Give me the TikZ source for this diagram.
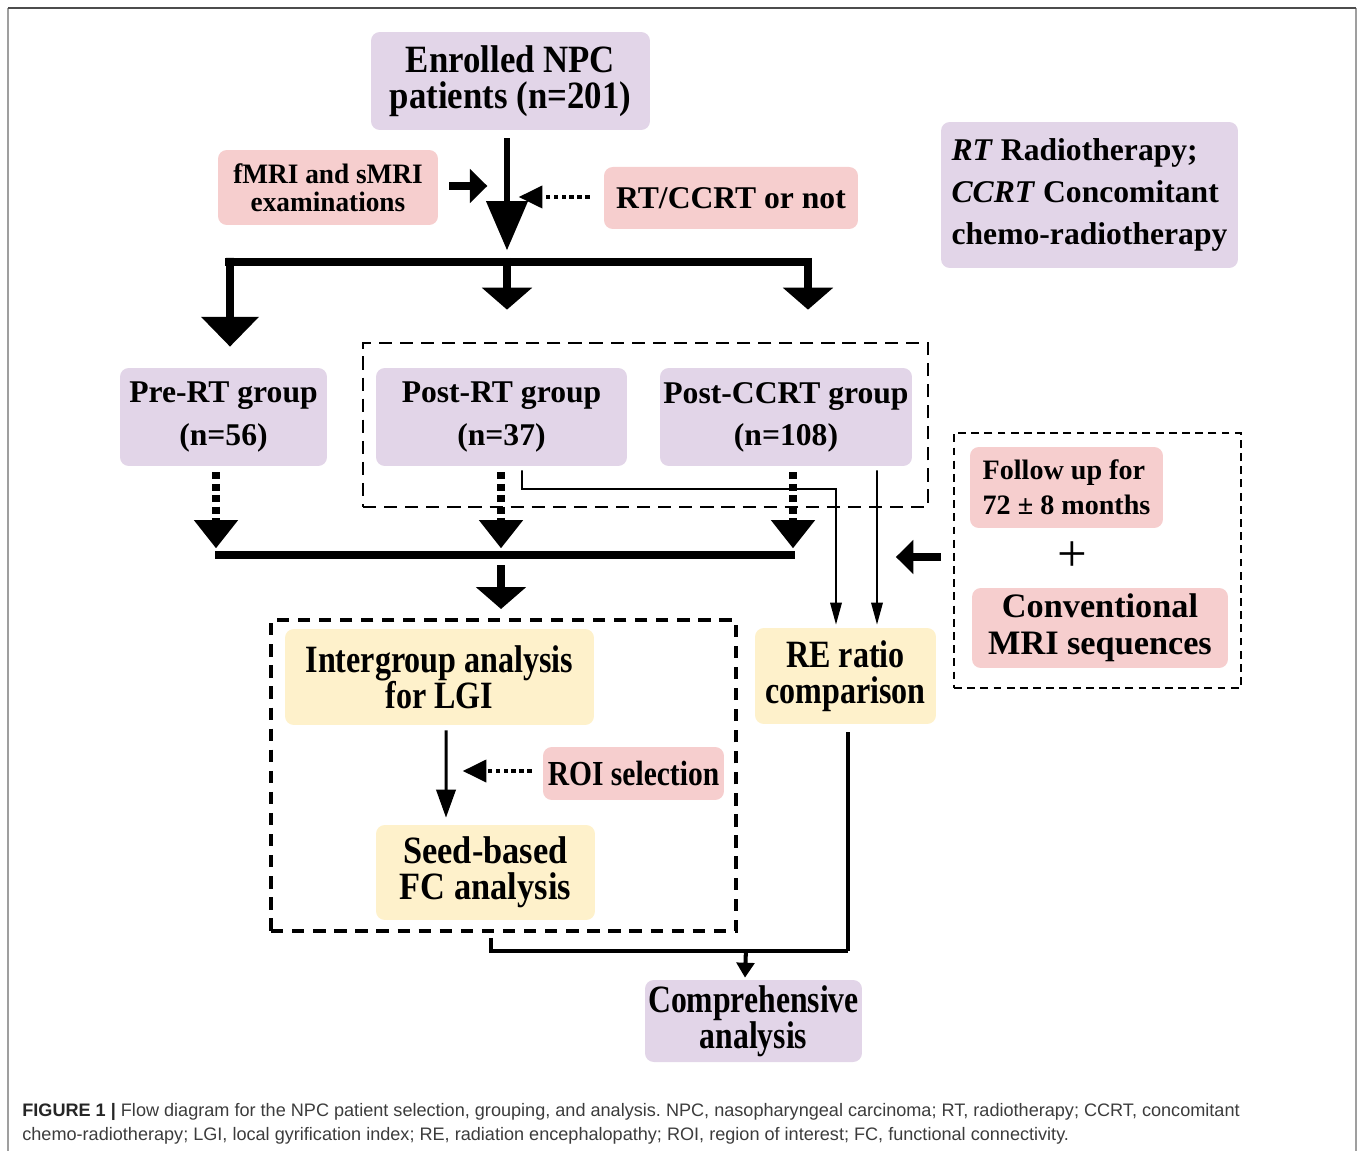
\documentclass[tikz,border=0pt]{standalone}
\usepackage{fontspec}
\setmainfont{Liberation Serif}
\newfontfamily\capfont{Liberation Sans}
\usepackage{graphicx}
\usetikzlibrary{arrows.meta,calc}
\definecolor{lav}{RGB}{226,213,232}
\definecolor{pnk}{RGB}{246,206,206}
\definecolor{ylw}{RGB}{254,241,203}
\definecolor{capgray}{RGB}{60,60,60}
\newcommand{\hs}[2]{\scalebox{#1}[1]{#2}}
\frenchspacing
\begin{document}
\begin{tikzpicture}[x=0.02cm,y=-0.02cm,
  box/.style={rounded corners=5pt, inner sep=0pt, align=center},
  lavbox/.style={box, fill=lav},
  pnkbox/.style={box, fill=pnk},
  ylwbox/.style={box, fill=ylw},
  grpdash/.style={draw, line width=1.1pt, dash pattern=on 7.5pt off 4.5pt, inner sep=0pt},
  fudash/.style={draw, line width=1.3pt, dash pattern=on 4.5pt off 3pt, inner sep=0pt},
  anadash/.style={draw, line width=2.3pt, dash pattern=on 7pt off 5pt, inner sep=0pt},
  mainarrow/.style={line width=3.4pt, -{Triangle[width=23pt,length=28pt]}},
  dropL/.style={line width=4.5pt, -{Triangle[width=32pt,length=17pt]}},
  dropM/.style={line width=4.5pt, -{Triangle[width=28pt,length=12.5pt]}},
  sidearrow/.style={line width=4.5pt, -{Triangle[width=19pt,length=10pt]}},
  dotarrow/.style={line width=2.3pt, dash pattern=on 2.5pt off 2pt, -{Triangle[width=12.5pt,length=13.5pt]}},
  dotdrop/.style={line width=4.5pt, dash pattern=on 4pt off 2.5pt, -{Triangle[width=24pt,length=16pt]}},
  thinarrow/.style={line width=1.1pt, -{Triangle[width=6.5pt,length=12.5pt]}},
  midarrow/.style={line width=1.7pt, -{Triangle[width=11pt,length=16pt]}},
  botline/.style={line width=2.3pt},
  botarrow/.style={line width=2.3pt, -{Triangle[width=10pt,length=8.5pt]}},
  barline/.style={line width=5pt},
  capstyle/.style={anchor=base west, inner sep=0pt, text=capgray, font=\capfont\fontsize{10.3}{12}\selectfont}
]
\useasboundingbox (0,0) rectangle (1358,1151);
% frame
\draw[gray!75, line width=1.2pt] (8,1151) -- (8,8);
\draw[gray!75, line width=1.2pt] (1356,8) -- (1356,1151);
\draw[black!70, line width=1.2pt] (8,8) -- (1356,8);

% dashed group boxes
\node[grpdash, minimum width=11.3cm, minimum height=3.28cm] (grpbox) at (645.5,425) {};
\node[fudash, minimum width=5.74cm, minimum height=5.1cm] (fubox) at (1097.5,560.5) {};
\node[anadash, minimum width=9.3cm, minimum height=6.22cm] (anabox) at (503.5,775.5) {};

% nodes
\node[lavbox, minimum width=5.58cm, minimum height=1.96cm, font=\bfseries\fontsize{22}{20.5}\selectfont] (enrolled) at (510.5,81) {\hs{0.9}{Enrolled NPC}\\\hs{0.9}{patients (n=201)}};
\node[pnkbox, minimum width=4.4cm, minimum height=1.5cm, font=\bfseries\fontsize{16}{16}\selectfont] (fmri) at (328,187.5) {\hs{0.97}{fMRI and sMRI}\\\hs{0.97}{examinations}};
\node[pnkbox, minimum width=5.08cm, minimum height=1.24cm, font=\bfseries\fontsize{18}{18}\selectfont] (rtccrt) at (731,198) {RT/CCRT or not};
\node[lavbox, align=left, minimum width=5.94cm, minimum height=2.92cm, font=\bfseries\fontsize{18}{24}\selectfont] (legend) at (1089.5,195) {\textit{RT} Radiotherapy;\\\textit{CCRT} Concomitant\\chemo-radiotherapy};
\node[lavbox, minimum width=4.14cm, minimum height=1.96cm, font=\bfseries\fontsize{18}{24}\selectfont] (pre) at (223.5,417) {Pre-RT group\\(n=56)};
\node[lavbox, minimum width=5.02cm, minimum height=1.96cm, font=\bfseries\fontsize{18}{24}\selectfont] (postrt) at (501.5,417) {Post-RT group\\(n=37)};
\node[lavbox, minimum width=5.04cm, minimum height=1.96cm, font=\bfseries\fontsize{18}{24}\selectfont] (postccrt) at (786,417) {Post-CCRT group\\(n=108)};
\node[pnkbox, align=left, minimum width=3.86cm, minimum height=1.62cm, font=\bfseries\fontsize{16}{20}\selectfont] (follow) at (1066.5,487.5) {Follow up for\\72 ± 8 months};
\node[inner sep=0pt, font=\fontsize{30}{30}\selectfont] (plus) at (1072,557) {+};
\node[pnkbox, minimum width=5.12cm, minimum height=1.6cm, font=\bfseries\fontsize{19.5}{21}\selectfont] (conv) at (1100,628) {Conventional\\MRI sequences};
\node[ylwbox, minimum width=6.18cm, minimum height=1.92cm, font=\bfseries\fontsize{22}{20.5}\selectfont] (inter) at (439.5,677) {\hs{0.83}{Intergroup analysis}\\\hs{0.83}{for LGI}};
\node[pnkbox, minimum width=3.62cm, minimum height=1.06cm, font=\bfseries\fontsize{20}{20}\selectfont] (roi) at (633.5,773.5) {\hs{0.84}{ROI selection}};
\node[ylwbox, minimum width=4.38cm, minimum height=1.9cm, font=\bfseries\fontsize{22}{20.5}\selectfont] (seed) at (485.5,872.5) {\hs{0.89}{Seed-based}\\\hs{0.89}{FC analysis}};
\node[ylwbox, minimum width=3.62cm, minimum height=1.92cm, font=\bfseries\fontsize{22}{20.5}\selectfont] (re) at (845.5,676) {\hs{0.83}{RE ratio}\\\hs{0.83}{comparison}};
\node[lavbox, minimum width=4.34cm, minimum height=1.64cm, font=\bfseries\fontsize{22}{20.5}\selectfont] (comp) at (753.5,1021) {\hs{0.82}{Comprehensive}\\\hs{0.82}{analysis}};

% caption
\node[capstyle] (cap1) at (22,1116) {{\color{black!85}\bfseries FIGURE 1 |} Flow diagram for the NPC patient selection, grouping, and analysis. NPC, nasopharyngeal carcinoma; RT, radiotherapy; CCRT, concomitant};
\node[capstyle] (cap2) at (22,1140) {chemo-radiotherapy; LGI, local gyrification index; RE, radiation encephalopathy; ROI, region of interest; FC, functional connectivity.};

% coordinates
\coordinate (barL) at (225,262);
\coordinate (barR) at (812,262);
\coordinate (bar2L) at (215,555);
\coordinate (bar2R) at (795,555);
\coordinate (k1) at (522,489);
\coordinate (k2) at (836,489);
\coordinate (j1) at (491,951);
\coordinate (j2) at (848,951);

% connectors top
\draw[mainarrow] ($(enrolled.south)+(-3.5,8)$) -- ($(enrolled.south)+(-3.5,120)$);
\draw[sidearrow] ($(fmri.east)+(11,-1.5)$) -- ($(fmri.east)+(49,-1.5)$);
\draw[dotarrow] ($(rtccrt.west)+(-14,-1)$) -- ($(rtccrt.west)+(-85,-1)$);
\draw[barline] (barL) -- (barR);
\draw[dropL] ($(barL)+(5,-4)$) -- ($(pre.north)+(6.5,-21)$);
\draw[dropM] ($(barL -| postrt.north)+(5.5,-4)$) -- ($(postrt.north)+(5.5,-58)$);
\draw[dropM] ($(barR)+(-4,-4)$) -- ($(postccrt.north)+(22,-58)$);

% dotted drops to bar
\draw[dotdrop] ($(pre.south)+(-7.5,6)$) -- ($(pre.south)+(-7.5,82)$);
\draw[dotdrop] ($(postrt.south)+(-0.5,6)$) -- ($(postrt.south)+(-0.5,82)$);
\draw[dotdrop] ($(postccrt.south)+(7,6)$) -- ($(postccrt.south)+(7,82)$);
\draw[barline] (bar2L) -- (bar2R);
\draw[dropM] ($(bar2L -| postrt.south)+(-0.5,10)$) -- ($(anabox.north -| postrt.south)+(-0.5,-9)$);

% thin arrows to RE
\draw[thinarrow] ($(postrt.south)+(20.5,4)$) -- (k1) -- (k2) -- ($(re.north -| k2)+(0,-3)$);
\draw[thinarrow] ($(postccrt.south)+(91,4)$) -- ($(re.north)+(31.5,-3)$);
\draw[sidearrow] ($(fubox.west)+(-12,-3.5)$) -- ($(fubox.west)+(-57,-3.5)$);

% analysis box
\draw[midarrow] ($(inter.south)+(6.5,5)$) -- ($(seed.north)+(-39.5,-7)$);
\draw[dotarrow] ($(roi.west)+(-11,-2.5)$) -- ($(roi.west)+(-80,-2.5)$);

% bottom
\draw[botline] ($(anabox.south -| j1)+(0,5)$) -- (j1) -- (j2);
\draw[botline] ($(re.south -| j2)+(0,8)$) -- (j2);
\draw[botarrow] ($(j1)!0.714!(j2)$) -- ($(comp.north)+(-8.5,-2)$);
\end{tikzpicture}
\end{document}
